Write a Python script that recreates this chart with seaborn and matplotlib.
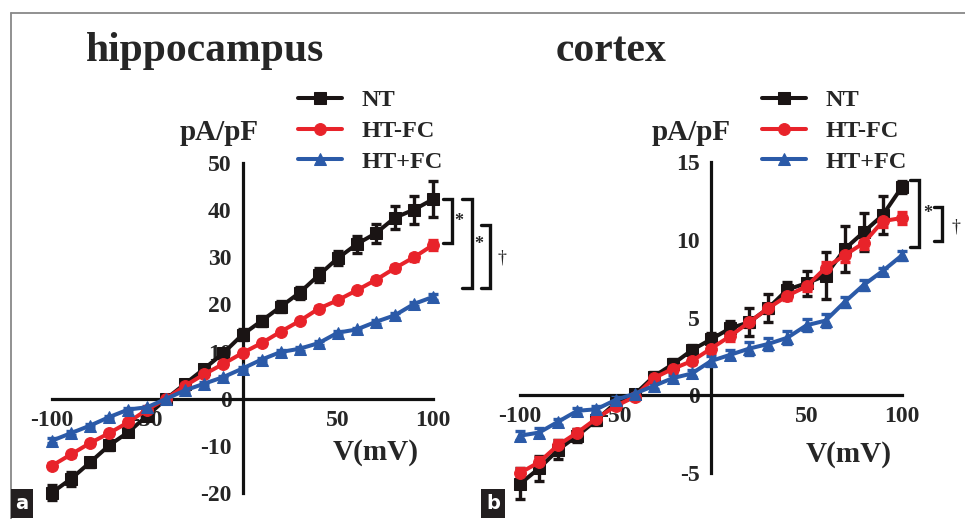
import matplotlib
matplotlib.use("Agg")
import matplotlib.pyplot as plt
import seaborn as sns
from matplotlib.lines import Line2D

sns.set_theme(style="white")
plt.rcParams["font.family"] = ["Liberation Serif", "DejaVu Serif"]
plt.rcParams["font.weight"] = "bold"
plt.rcParams["axes.unicode_minus"] = False

# membrane voltage steps (mV)
voltage = [-100, -90, -80, -70, -60, -50, -40, -30, -20, -10, 0,
           10, 20, 30, 40, 50, 60, 70, 80, 90, 100]

groups = ["NT", "HT-FC", "HT+FC"]
colors = {"NT": "#1a1414", "HT-FC": "#e8232a", "HT+FC": "#2b5aa8"}
markers = {"NT": "s", "HT-FC": "o", "HT+FC": "^"}

# hippocampus current density (pA/pF), mean and SEM
hip_nt = [-19.9, -17.0, -13.5, -9.9, -7.1, -3.6, 0.0, 3.2, 6.4, 9.7, 13.6,
          16.5, 19.5, 22.5, 26.2, 29.8, 32.8, 35.1, 38.4, 40.1, 42.3]
hip_nt_err = [1.5, 1.5, 1.0, 1.0, 0.8, 0.8, 0.6, 0.8, 0.8, 0.8, 1.2,
              1.0, 1.2, 1.3, 1.5, 1.5, 1.8, 2.0, 2.5, 3.0, 3.8]
hip_htfc_minus = [-14.2, -11.8, -9.4, -7.3, -5.0, -2.3, 0.0, 2.8, 5.2, 7.4, 9.7,
                  11.8, 14.2, 16.5, 19.1, 20.9, 23.0, 25.2, 27.7, 30.0, 32.6]
hip_htfc_minus_err = [0.6, 0.5, 0.5, 0.4, 0.4, 0.3, 0.3, 0.3, 0.3, 0.4, 0.4,
                      0.4, 0.4, 0.5, 0.5, 0.5, 0.5, 0.6, 0.6, 0.7, 1.0]
hip_htfc_plus = [-8.9, -7.3, -5.7, -3.9, -2.3, -1.8, 0.0, 1.8, 3.2, 4.6, 6.4,
                 8.3, 9.9, 10.6, 11.8, 14.0, 14.7, 16.3, 17.7, 20.1, 21.6]
hip_htfc_plus_err = [0.5, 0.4, 0.4, 0.3, 0.3, 0.3, 0.3, 0.3, 0.3, 0.3, 0.4,
                     0.4, 0.4, 0.4, 0.4, 0.4, 0.4, 0.5, 0.5, 0.5, 0.6]

# cortex current density (pA/pF), mean and SEM
ctx_nt = [-5.7, -4.7, -3.5, -2.6, -1.6, -0.5, 0.05, 1.2, 2.0, 2.9, 3.6,
          4.3, 4.7, 5.6, 6.8, 7.2, 7.7, 9.4, 10.5, 11.6, 13.4]
ctx_nt_err = [1.0, 0.8, 0.6, 0.4, 0.3, 0.3, 0.2, 0.3, 0.3, 0.3, 0.4,
              0.5, 0.9, 0.9, 0.5, 0.8, 1.5, 1.5, 1.2, 1.2, 0.4]
ctx_htfc_minus = [-5.0, -4.3, -3.2, -2.4, -1.5, -0.7, -0.1, 1.1, 1.7, 2.2, 3.0,
                  3.8, 4.7, 5.6, 6.4, 7.0, 8.2, 9.0, 9.8, 11.2, 11.4]
ctx_htfc_minus_err = [0.3, 0.3, 0.3, 0.2, 0.2, 0.2, 0.2, 0.2, 0.2, 0.2, 0.3,
                      0.3, 0.3, 0.3, 0.3, 0.3, 0.4, 0.4, 0.4, 0.4, 0.4]
ctx_htfc_plus = [-2.6, -2.4, -1.7, -1.0, -0.9, -0.3, 0.1, 0.6, 1.1, 1.4, 2.2,
                 2.6, 3.0, 3.3, 3.7, 4.5, 4.8, 6.0, 7.1, 8.0, 9.0]
ctx_htfc_plus_err = [0.3, 0.3, 0.2, 0.2, 0.2, 0.2, 0.2, 0.2, 0.2, 0.2, 0.3,
                     0.3, 0.4, 0.4, 0.4, 0.4, 0.4, 0.3, 0.3, 0.2, 0.3]

hip_means = {"NT": hip_nt, "HT-FC": hip_htfc_minus, "HT+FC": hip_htfc_plus}
hip_errs = {"NT": hip_nt_err, "HT-FC": hip_htfc_minus_err, "HT+FC": hip_htfc_plus_err}
ctx_means = {"NT": ctx_nt, "HT-FC": ctx_htfc_minus, "HT+FC": ctx_htfc_plus}
ctx_errs = {"NT": ctx_nt_err, "HT-FC": ctx_htfc_minus_err, "HT+FC": ctx_htfc_plus_err}

hip_yticks = [-20, -10, 0, 10, 20, 30, 40, 50]
ctx_yticks = [-5, 0, 5, 10, 15]
x_ticks = [-100, -50, 0, 50, 100]
x_ticklabels = ["-100", "-50", "", "50", "100"]

W, H = 965, 519
fig = plt.figure(figsize=(W / 100, H / 100), dpi=100)
fig.patch.set_facecolor("white")


def px_rect(x0, y0, x1, y1):
    # pixel box (top-left origin) -> figure fraction rect
    return [x0 / W, 1 - y1 / H, (x1 - x0) / W, (y1 - y0) / H]


def draw_panel(ax, means, errs, ylim, yticks):
    for g in groups:
        ax.errorbar(voltage, means[g], yerr=errs[g], fmt="none", ecolor=colors[g],
                    elinewidth=2.4, capsize=3.5, capthick=2.4, clip_on=False, zorder=3)
        sns.lineplot(x=voltage, y=means[g], ax=ax, color=colors[g], marker=markers[g],
                     markersize=8.5, markeredgecolor=colors[g], linewidth=2.9,
                     label=g, clip_on=False, zorder=4)
    ax.set_xlim(-100, 100)
    ax.set_ylim(*ylim)
    ax.spines["left"].set_position(("data", 0))
    ax.spines["bottom"].set_position(("data", 0))
    ax.spines["top"].set_visible(False)
    ax.spines["right"].set_visible(False)
    for s in ("left", "bottom"):
        ax.spines[s].set_linewidth(2.3)
        ax.spines[s].set_color("#111111")
    ax.set_xticks(x_ticks)
    ax.set_xticklabels(x_ticklabels)
    ax.set_yticks(yticks)
    ax.set_yticklabels([str(t) for t in yticks])
    ax.tick_params(axis="both", direction="out", length=6, width=2.3, color="#111111",
                   labelsize=17, pad=2)
    for lab in ax.get_xticklabels() + ax.get_yticklabels():
        lab.set_fontweight("bold")
    ax.set_facecolor("none")
    ax.grid(False)
    ax.set_xlabel("")
    ax.set_ylabel("")
    ax.get_legend().remove()


ax1 = fig.add_axes(px_rect(52, 163, 433, 493))
draw_panel(ax1, hip_means, hip_errs, (-20, 50), hip_yticks)
ax2 = fig.add_axes(px_rect(520, 162, 902, 473))
draw_panel(ax2, ctx_means, ctx_errs, (-5, 15), ctx_yticks)

# legends
for ax, xpx in ((ax1, 298), (ax2, 762)):
    handles, labels = ax.get_legend_handles_labels()
    fig.legend(handles, labels, loc="center left", bbox_to_anchor=(xpx / W, 1 - 131 / H),
               frameon=False, handlelength=1.8, handletextpad=0.8,
               labelspacing=0.35, borderpad=0, borderaxespad=0,
               prop={"weight": "bold", "size": 17.5})

# titles and axis labels
fig.text(86 / W, 1 - 61 / H, "hippocampus", fontsize=30, fontweight="bold", va="baseline")
fig.text(556 / W, 1 - 61 / H, "cortex", fontsize=30, fontweight="bold", va="baseline")
fig.text(259 / W, 1 - 133 / H, "pA/pF", fontsize=21, fontweight="bold", ha="right", va="center")
fig.text(731 / W, 1 - 133 / H, "pA/pF", fontsize=21, fontweight="bold", ha="right", va="center")
fig.text(376 / W, 1 - 453 / H, "V(mV)", fontsize=21, fontweight="bold", ha="center", va="center")
fig.text(849 / W, 1 - 455 / H, "V(mV)", fontsize=21, fontweight="bold", ha="center", va="center")


def bracket(ax, x0, x1, y0, y1):
    ax.plot([x0, x1, x1, x0], [y0, y0, y1, y1], color="#111111", lw=2.4,
            clip_on=False, solid_joinstyle="miter")


# significance brackets, hippocampus
bracket(ax1, 105, 110, 42.4, 33.0)
bracket(ax1, 115, 120.5, 42.4, 23.5)
bracket(ax1, 125, 130, 36.8, 23.5)
ax1.text(113.5, 37.5, "*", fontsize=13, ha="center", va="center")
ax1.text(124, 32.8, "*", fontsize=13, ha="center", va="center")
ax1.text(136, 29.8, "†", fontsize=13, ha="center", va="center", fontweight="normal")

# significance brackets, cortex
bracket(ax2, 104.3, 109.1, 13.85, 9.55)
bracket(ax2, 116.9, 121.1, 12.1, 9.9)
ax2.text(113.3, 11.7, "*", fontsize=13, ha="center", va="center")
ax2.text(128, 10.8, "†", fontsize=13, ha="center", va="center", fontweight="normal")

# page frame and panel letters
fig.add_artist(Line2D([11 / W, 1], [1 - 13 / H, 1 - 13 / H], color="#888888", lw=1.3))
fig.add_artist(Line2D([11 / W, 11 / W], [0, 1 - 13 / H], color="#888888", lw=1.3))
fig.text(22 / W, 6 / H, "a", fontsize=14, color="white", family="DejaVu Sans",
         ha="center", va="bottom",
         bbox=dict(boxstyle="square,pad=0.25", fc="#231f20", ec="none"))
fig.text(493 / W, 6 / H, "b", fontsize=14, color="white", family="DejaVu Sans",
         ha="center", va="bottom",
         bbox=dict(boxstyle="square,pad=0.25", fc="#231f20", ec="none"))

fig.savefig("out.png", dpi=100)
